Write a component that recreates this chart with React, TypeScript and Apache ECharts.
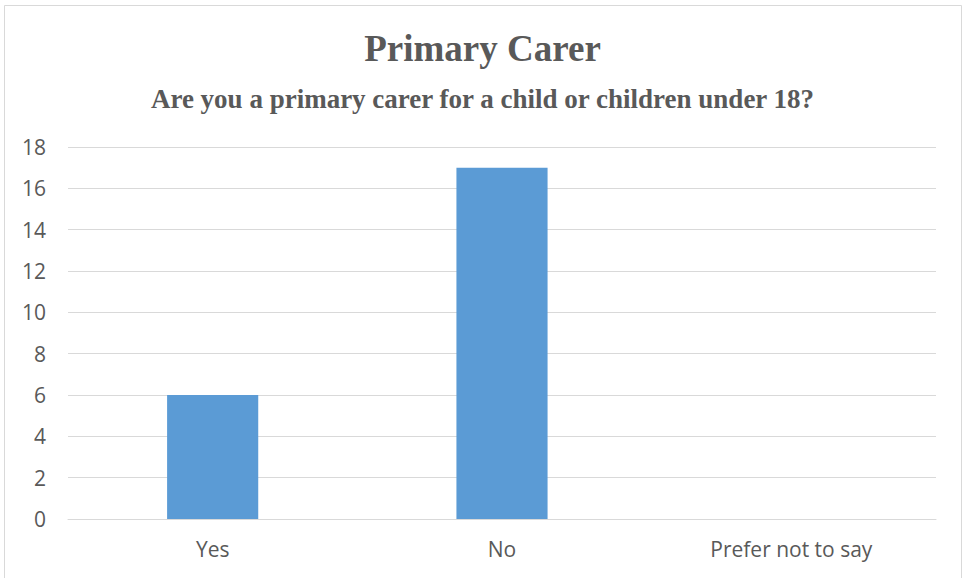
import React, { useEffect, useRef } from "react";
import * as echarts from "echarts";

const categories = ["Yes", "No", "Prefer not to say"];
const values = [6, 17, 0];
const titleText = "Primary Carer";
const subtitleText = "Are you a primary carer for a child or children under 18?";

const serif = "'Times New Roman', 'Liberation Serif', 'DejaVu Serif', serif";
const sans = "'Open Sans', 'Liberation Sans', sans-serif";

export default function App() {
  const ref = useRef<HTMLDivElement>(null);
  useEffect(() => {
    if (!ref.current) return;
    const chart = echarts.init(ref.current, null, { renderer: "svg" });
    chart.setOption({
      animation: false,
      backgroundColor: "#ffffff",
      graphic: [
        {
          type: "rect",
          shape: { x: 4.5, y: 5.5, width: 957, height: 590 },
          style: { fill: "none", stroke: "#d9d9d9", lineWidth: 1 },
          silent: true,
        },
      ],
      title: [
        {
          text: titleText,
          left: "center",
          top: 25,
          textStyle: {
            fontFamily: serif,
            fontWeight: "bold",
            fontSize: 37,
            color: "#595959",
          },
        },
        {
          text: subtitleText,
          left: "center",
          top: 80,
          textStyle: {
            fontFamily: serif,
            fontWeight: "bold",
            fontSize: 27,
            color: "#595959",
          },
        },
      ],
      grid: { left: 68, right: 29, top: 147, bottom: 59, containLabel: false },
      xAxis: {
        type: "category",
        data: categories,
        axisTick: { show: false },
        axisLine: { lineStyle: { color: "#d9d9d9", width: 1 } },
        axisLabel: {
          color: "#595959",
          fontFamily: sans,
          fontSize: 21,
          margin: 19,
        },
      },
      yAxis: {
        type: "value",
        min: 0,
        max: 18,
        interval: 2,
        axisLine: { show: false },
        axisTick: { show: false },
        splitLine: { lineStyle: { color: "#d9d9d9", width: 1 } },
        axisLabel: {
          color: "#595959",
          fontFamily: sans,
          fontSize: 21,
          margin: 22,
        },
      },
      series: [
        {
          type: "bar",
          data: values,
          barWidth: "31.5%",
          itemStyle: { color: "#5b9bd5" },
        },
      ],
    });
    return () => chart.dispose();
  }, []);
  return (
    <div
      ref={ref}
      style={{ position: "absolute", left: 0, top: 0, width: 965, height: 578 }}
    />
  );
}
